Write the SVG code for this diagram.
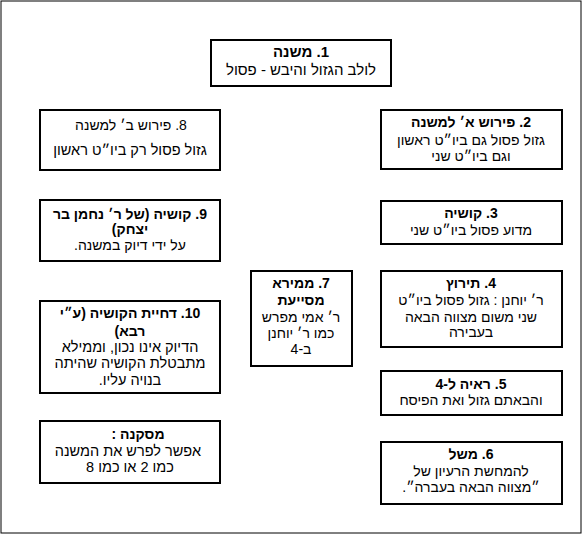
<svg xmlns="http://www.w3.org/2000/svg" width="583" height="535" viewBox="0 0 583 535">
<style>
.box{fill:#fff;stroke:#000;stroke-width:2}
text{font-family:"Liberation Sans","DejaVu Sans",sans-serif;font-size:14px;fill:#000;text-anchor:middle;direction:rtl;unicode-bidi:embed}
.t{font-family:"Liberation Sans","DejaVu Sans",sans-serif;font-weight:bold;font-size:14px}
.big{font-size:15px}
</style>
<rect x="1" y="1" width="580" height="532" fill="#fff" stroke="#000" stroke-width="1"/>
<g id="connectors"></g>
<g id="n1"><rect class="box" x="211" y="40" width="180" height="46"/>
<text class="t big" x="301" y="57">1. משנה</text>
<text class="big" x="301" y="75">לולב הגזול והיבש - פסול</text></g>
<g id="n8"><rect class="box" x="40" y="110" width="180" height="60"/>
<text x="131" y="130">8.  פירוש ב׳ למשנה</text>
<text x="130" y="155" style="font-size:14.5px">גזול פסול רק ביו״ט ראשון</text></g>
<g id="n2"><rect class="box" x="381" y="110" width="181" height="59"/>
<text class="t" x="471" y="127">2. פירוש א׳ למשנה</text>
<text x="471" y="145">גזול פסול גם ביו״ט ראשון</text>
<text x="471" y="161">וגם ביו״ט שני</text></g>
<g id="n9"><rect class="box" x="40" y="200" width="180" height="61"/>
<text class="t" x="130" y="219">9. קושיה (של ר׳ נחמן בר</text>
<text class="t" x="130" y="234">יצחק)</text>
<text x="130" y="250">על ידי דיוק במשנה.</text></g>
<g id="n3"><rect class="box" x="381" y="201" width="181" height="43"/>
<text class="t" x="471" y="218">3. קושיה</text>
<text x="471" y="235">מדוע פסול ביו״ט  שני</text></g>
<g id="n7"><rect class="box" x="251" y="271" width="101" height="95"/>
<text class="t" x="301" y="288">7. ממירא</text>
<text class="t" x="301" y="305">מסייעת</text>
<text x="301" y="322">ר׳ אמי מפרש</text>
<text x="301" y="338">כמו ר׳ יוחנן</text>
<text x="301" y="354">ב-4</text></g>
<g id="n4"><rect class="box" x="381" y="271" width="181" height="76"/>
<text class="t" x="471" y="288">4. תירוץ</text>
<text x="471" y="305">ר׳ יוחנן : גזול פסול ביו״ט</text>
<text x="471" y="322">שני משום מצווה הבאה</text>
<text x="471" y="337">בעבירה</text></g>
<g id="n10"><rect class="box" x="40" y="301" width="180" height="92"/>
<text class="t" x="130" y="318">10. דחיית הקושיה (ע״י</text>
<text class="t" x="130" y="336">רבא)</text>
<text x="130" y="352" style="font-size:14.5px">הדיוק אינו נכון, וממילא</text>
<text x="130" y="368" style="font-size:14.5px">מתבטלת הקושיה שהיתה</text>
<text x="130" y="385" style="font-size:14.5px">בנויה עליו.</text></g>
<g id="n5"><rect class="box" x="381" y="371" width="181" height="44"/>
<text class="t" x="471" y="389">5. ראיה ל-4</text>
<text x="471" y="405">והבאתם גזול ואת הפיסח</text></g>
<g id="n11"><rect class="box" x="40" y="421" width="180" height="62"/>
<text class="t" x="138" y="439">מסקנה :</text>
<text x="128" y="456" style="font-size:14.5px">אפשר לפרש את המשנה</text>
<text x="130" y="472" style="font-size:14.5px">כמו 2 או כמו 8</text></g>
<g id="n6"><rect class="box" x="381" y="442" width="181" height="62"/>
<text class="t" x="471" y="459">6. משל</text>
<text x="471" y="476">להמחשת הרעיון של</text>
<text x="471" y="492">״מצווה הבאה בעברה״.</text></g>
</svg>
